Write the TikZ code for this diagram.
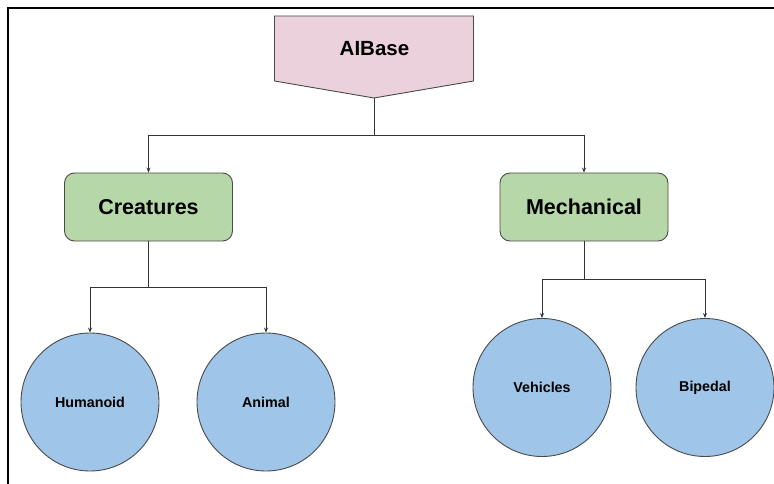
\documentclass[tikz,border=0pt]{standalone}
\usepackage{fontspec}
\setmainfont{Liberation Sans}
\usetikzlibrary{arrows.meta}
\definecolor{pinkfill}{HTML}{EAD1DC}
\definecolor{greenfill}{HTML}{B6D7A8}
\definecolor{bluefill}{HTML}{9FC5E8}
\definecolor{edge}{HTML}{4A4A4A}
\definecolor{conn}{HTML}{333333}
\tikzset{
  catbox/.style={draw=edge, line width=0.9pt, fill=greenfill, rounded corners=10pt,
    minimum width=168pt, minimum height=68pt, inner sep=0pt,
    font=\fontsize{21.5}{24}\selectfont\bfseries},
  leaf/.style={draw=edge, line width=0.9pt, fill=bluefill, circle, minimum size=138pt,
    inner sep=0pt, font=\fontsize{14.3}{16}\selectfont\bfseries},
  conline/.style={draw=conn, line width=0.8pt},
  arr/.style={conline, -{Stealth[length=5pt,width=4pt]}}
}
\begin{document}
\begin{tikzpicture}[x=1pt,y=-1pt]
\useasboundingbox (0,0) rectangle (774,484);
% frame
\draw[line width=2pt] (7.5,484) -- (7.5,8.5) -- (774,8.5);
% AIBase pentagon
\draw[draw=edge, line width=0.9pt, fill=pinkfill]
  (274.5,16) -- (473.5,16) -- (473.5,81) -- (374,98) -- (274.5,81) -- cycle;
\node[font=\fontsize{20.5}{24}\selectfont\bfseries] (aibase) at (374.5,49) {AIBase};
\coordinate (aitip) at (374,98);
% categories
\node[catbox] (creatures) at (148.5,207) {Creatures};
\node[catbox] (mech) at (584,207) {Mechanical};
% leaves
\node[leaf] (humanoid) at (90,402) {Humanoid};
\node[leaf] (animal) at (266,402) {Animal};
\node[leaf] (vehicles) at (542,387.5) {Vehicles};
\node[leaf] (bipedal) at (705,387.5) {Bipedal};
% junctions
\coordinate (j1) at (374,135);
\coordinate (j2) at (148.5,287);
\coordinate (j3) at (584,279);
% connectors
\draw[conline] (aitip) -- (j1);
\draw[arr] (j1) -| (creatures.north);
\draw[arr] (j1) -| (mech.north);
\draw[conline] (creatures.south) -- (j2);
\draw[arr] (j2) -| (humanoid.north);
\draw[arr] (j2) -| (animal.north);
\draw[conline] (mech.south) -- (j3);
\draw[arr] (j3) -| (vehicles.north);
\draw[arr] (j3) -| (bipedal.north);
\end{tikzpicture}
\end{document}
